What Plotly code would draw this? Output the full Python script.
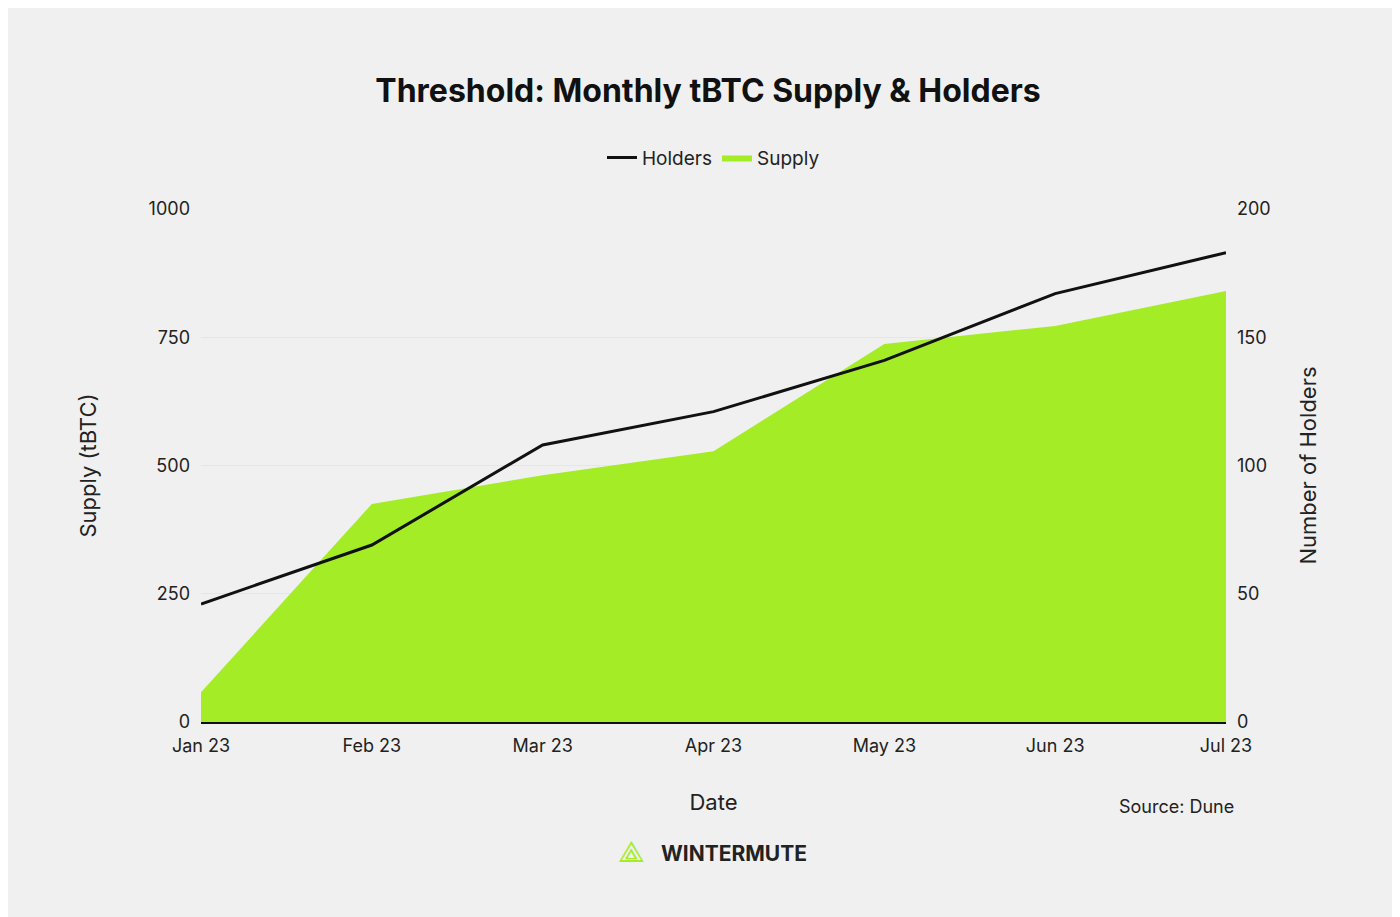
import plotly.graph_objects as go

months = ["Jan 23", "Feb 23", "Mar 23", "Apr 23", "May 23", "Jun 23", "Jul 23"]
supply = [58, 425, 481, 528, 737, 772, 840]
holders = [46, 69, 108, 121, 141, 167, 183]

fig = go.Figure()

fig.add_trace(go.Scatter(x=months, y=holders, name="Holders", yaxis="y2",
                         mode="lines", line=dict(color="#111111", width=3)))
fig.add_trace(go.Scatter(x=months, y=supply, name="Supply", fill="tozeroy",
                         mode="lines", line=dict(color="#a3ec26", width=0),
                         fillcolor="#a3ec26"))

font = "Inter, Roboto, sans-serif"
fig.update_layout(
    width=1400, height=917,
    paper_bgcolor="#f0f0f0", plot_bgcolor="#f0f0f0",
    margin=dict(l=193, r=182, t=201, b=203),
    font=dict(family=font, size=18, color="#222"),
    title=dict(text="<b>Threshold: Monthly tBTC Supply & Holders</b>", x=0.5, y=0.91,
               xanchor="center", yanchor="middle", font=dict(size=32, color="#111")),
    legend=dict(orientation="h", x=0.5, xanchor="center", y=1.1, yanchor="middle",
                font=dict(size=19), traceorder="normal"),
    showlegend=True,
    xaxis=dict(title=dict(text="Date", standoff=40), showgrid=False, showline=True,
               linecolor="#111", linewidth=2, ticks="", range=[0, 6],
               ticklabelstandoff=6),
    yaxis=dict(title=dict(text="Supply (tBTC)", standoff=45), range=[0, 1000],
               tickvals=[0, 250, 500, 750, 1000], gridcolor="#e6e6e6", zeroline=False,
               ticklabelstandoff=10),
    yaxis2=dict(title=dict(text="Number of Holders", standoff=30), range=[0, 200],
                tickvals=[0, 50, 100, 150, 200], overlaying="y", side="right",
                showgrid=False, zeroline=False, ticklabelstandoff=10),
)

fig.add_annotation(text="Source: Dune", xref="paper", yref="paper", x=1.01, y=-0.19,
                   xanchor="right", showarrow=False, font=dict(size=18))
fig.add_annotation(text="<b>WINTERMUTE</b>", xref="paper", yref="paper",
                   x=0.52, y=-0.285, xanchor="center", showarrow=False,
                   font=dict(size=21, color="#222"))
fig.add_annotation(text="⟁", xref="paper", yref="paper", x=0.42, y=-0.29,
                   showarrow=False, font=dict(size=30, color="#a3ec26"))

fig.write_html("out.html")
